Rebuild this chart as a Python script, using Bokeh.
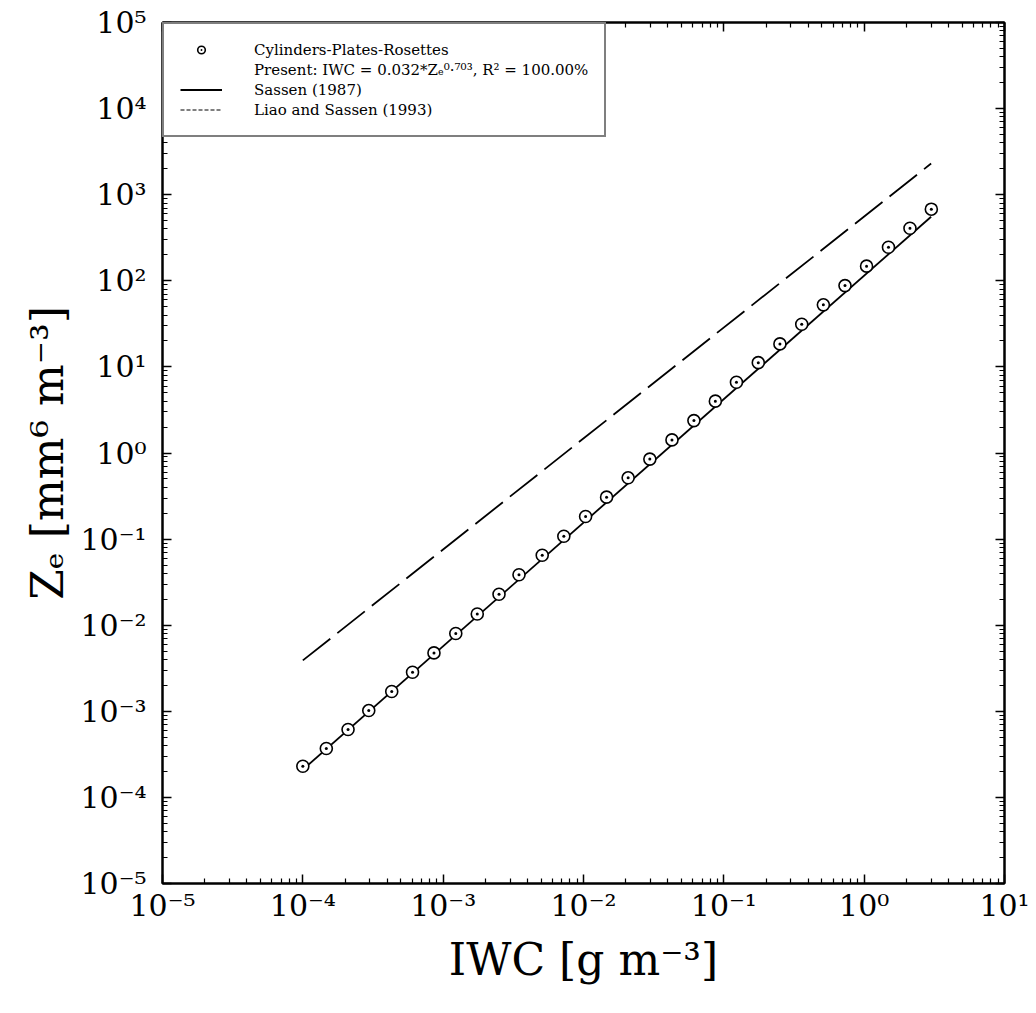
from bokeh.plotting import figure
from bokeh.models import (FixedTicker, LogAxis, CustomJSTickFormatter, Legend,
                          LegendItem, Range1d)
from bokeh.embed import file_html
from bokeh.resources import INLINE

# ---- data ----
iwc = [1.0e-4, 1.47e-4, 2.1e-4, 2.95e-4, 4.3e-4, 6.05e-4, 8.6e-4, 1.23e-3,
       1.75e-3, 2.5e-3, 3.47e-3, 5.08e-3, 7.24e-3, 1.035e-2, 1.46e-2, 2.08e-2,
       2.97e-2, 4.27e-2, 6.12e-2, 8.7e-2, 0.123, 0.176, 0.251, 0.359, 0.512,
       0.73, 1.04, 1.49, 2.12, 3.01]
ze = [2.3e-4, 3.7e-4, 6.15e-4, 1.02e-3, 1.70e-3, 2.84e-3, 4.77e-3, 8.0e-3,
      1.35e-2, 2.29e-2, 3.85e-2, 6.5e-2, 0.108, 0.183, 0.307, 0.515, 0.85,
      1.42, 2.38, 4.0, 6.64, 11.2, 18.5, 31.3, 52.6, 88.0, 148.0, 245.0,
      408.0, 679.0]

sassen_iwc = [1.0e-4, 3.0]
sassen_ze = [2.1e-4, 555.0]
liao_iwc = [1.0e-4, 3.0]
liao_ze = [3.9e-3, 2.3e3]

x_ticks = [1e-5, 1e-4, 1e-3, 1e-2, 1e-1, 1e0, 1e1]
x_tick_labels = ["10⁻⁵", "10⁻⁴", "10⁻³", "10⁻²", "10⁻¹", "10⁰", "10¹"]
y_ticks = [1e-5, 1e-4, 1e-3, 1e-2, 1e-1, 1e0, 1e1, 1e2, 1e3, 1e4, 1e5]
y_tick_labels = ["10⁻⁵", "10⁻⁴", "10⁻³", "10⁻²", "10⁻¹", "10⁰", "10¹",
                 "10²", "10³", "10⁴", "10⁵"]

label_pts = "Cylinders-Plates-Rosettes"
label_fit = "Present: IWC = 0.032*Zₑ⁰·⁷⁰³, R² = 100.00%"
label_sassen = "Sassen (1987)"
label_liao = "Liao and Sassen (1993)"
x_title = "IWC [g m⁻³]"
y_title = "Zₑ [mm⁶ m⁻³]"

FONT = "DejaVu Serif"

def minor_of(ticks):
    out = []
    for t in ticks[:-1]:
        for m in range(2, 10):
            out.append(t * m)
    return out

def tick_fmt(tv, tl):
    return CustomJSTickFormatter(args=dict(tvals=tv, tlabels=tl), code="""
const lt = Math.log10(tick);
for (let i = 0; i < tvals.length; i++) {
  if (Math.abs(Math.log10(tvals[i]) - lt) < 1e-6) { return tlabels[i]; }
}
return "";
""")

p = figure(width=1036, height=1013, x_axis_type="log", y_axis_type="log",
           x_range=Range1d(1e-5, 1e1), y_range=Range1d(1e-5, 1e5),
           output_backend="svg", toolbar_location=None)
p.min_border_left = 162
p.min_border_right = 32
p.min_border_top = 22
p.min_border_bottom = 130
p.xgrid.visible = False
p.ygrid.visible = False
p.outline_line_color = "black"
p.outline_line_width = 2
p.background_fill_color = "white"
p.border_fill_color = "white"

xt = FixedTicker(ticks=x_ticks, minor_ticks=minor_of(x_ticks))
yt = FixedTicker(ticks=y_ticks, minor_ticks=minor_of(y_ticks))

def style_axis(ax, ticker, fmt):
    ax.ticker = ticker
    ax.formatter = fmt
    ax.axis_line_color = "black"
    ax.axis_line_width = 2
    ax.major_tick_in = 9
    ax.major_tick_out = 0
    ax.minor_tick_in = 5
    ax.minor_tick_out = 0
    ax.major_tick_line_width = 1.5
    ax.minor_tick_line_width = 1.2
    ax.major_tick_line_color = "black"
    ax.minor_tick_line_color = "black"
    ax.major_label_text_font = FONT
    ax.major_label_text_font_size = "30px"
    ax.major_label_text_color = "black"
    ax.axis_label_text_font = FONT
    ax.axis_label_text_font_style = "normal"
    ax.axis_label_text_font_size = "44px"
    ax.axis_label_text_color = "black"

xa = p.xaxis[0]
ya = p.yaxis[0]
style_axis(xa, xt, tick_fmt(x_ticks, x_tick_labels))
style_axis(ya, yt, tick_fmt(y_ticks, y_tick_labels))
xa.axis_label = x_title
ya.axis_label = y_title
xa.major_label_standoff = 4
xa.axis_label_standoff = 8
ya.major_label_standoff = 16
ya.axis_label_standoff = 4
ya.major_label_orientation = "horizontal"

top_ax = LogAxis()
right_ax = LogAxis()
style_axis(top_ax, xt, CustomJSTickFormatter(code="return '';"))
style_axis(right_ax, yt, CustomJSTickFormatter(code="return '';"))
top_ax.major_label_text_font_size = "1px"
right_ax.major_label_text_font_size = "1px"
top_ax.major_label_standoff = 0
right_ax.major_label_standoff = 0
p.add_layout(top_ax, "above")
p.add_layout(right_ax, "right")

# ---- data marks ----
r_s = p.line(sassen_iwc, sassen_ze, line_color="black", line_width=1.8)
r_l = p.line(liao_iwc, liao_ze, line_color="black", line_width=1.8,
             line_dash="35 9")
r_pts = p.scatter(iwc, ze, marker="circle_dot", size=12, line_color="black",
                  line_width=1.6, fill_color="white")
# legend-only keys: drawn muted (invisible) in the plot, normal in the legend
r_fit_key = p.line(liao_iwc, liao_ze, line_alpha=0, muted_line_alpha=0)
r_fit_key.muted = True
r_liao_key = p.line(liao_iwc, liao_ze, line_color="black", line_width=1.2,
                    line_dash="4 2", muted_line_alpha=0)
r_liao_key.muted = True

legend = Legend(items=[
    LegendItem(label=label_pts, renderers=[r_pts]),
    LegendItem(label=label_fit, renderers=[r_fit_key]),
    LegendItem(label=label_sassen, renderers=[r_s]),
    LegendItem(label=label_liao, renderers=[r_liao_key]),
], location="top_left")
legend.click_policy = "none"
legend.margin = 0
legend.padding = 16
legend.spacing = 1
legend.glyph_width = 42
legend.glyph_height = 19
legend.label_height = 19
legend.label_standoff = 32
legend.label_text_font = FONT
legend.label_text_font_size = "15px"
legend.label_text_color = "black"
legend.border_line_color = "black"
legend.border_line_width = 2
legend.background_fill_color = "white"
legend.background_fill_alpha = 1.0
p.add_layout(legend)

open("out.html", "w").write(file_html(p, INLINE))
